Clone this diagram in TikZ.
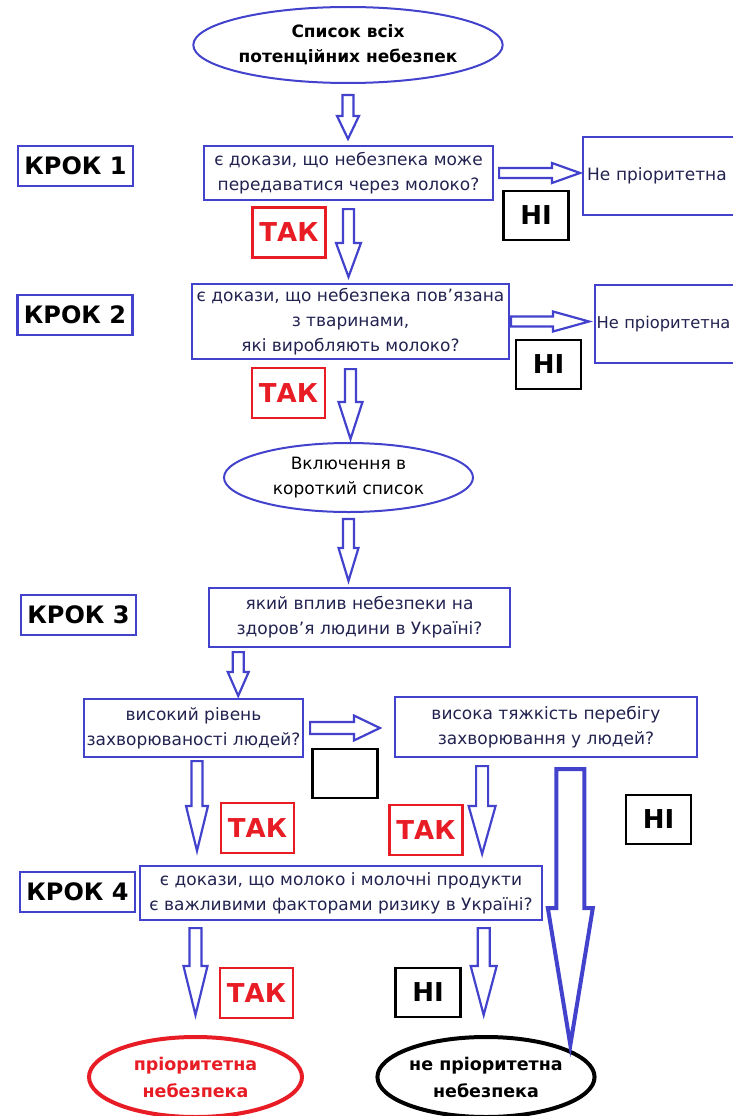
\documentclass[tikz,border=0pt]{standalone}
\usepackage{fontspec}
\setmainfont{DejaVu Sans}
\usetikzlibrary{positioning, calc, shapes.geometric}
\definecolor{flowblue}{RGB}{66,66,204}
\definecolor{flowred}{RGB}{232,28,36}
\definecolor{qtext}{RGB}{34,34,80}
\newcommand\txtq{\fontsize{17}{25}\selectfont}
\newcommand\txtstep{\fontsize{24}{28}\selectfont\bfseries}
\newcommand\txttag{\fontsize{26}{30}\selectfont\bfseries}
\newcommand\txtend{\fontsize{17.5}{27}\selectfont\bfseries}
\tikzset{
  flow box/.style={draw=flowblue, line width=2.2, rectangle, inner sep=0, align=center, text=qtext, font=\txtq},
  flow step/.style={draw=flowblue, line width=2.2, minimum width=115, minimum height=40, inner sep=0, font=\txtstep},
  flow yes/.style={draw=flowred, line width=2.2, text=flowred, minimum width=73, minimum height=50, inner sep=0, font=\txttag},
  flow no/.style={draw=black, line width=2.2, minimum width=65, minimum height=49, inner sep=0, font=\txttag},
  flow oval/.style={ellipse, draw=flowblue, line width=2, inner sep=0, align=center, text=black},
  flow end/.style={ellipse, line width=4, inner sep=0, align=center, font=\txtend, minimum width=210, minimum height=80},
  flow arrow/.style={draw=flowblue, line join=miter},
}
\pgfkeys{/barrow/.cd, shaft/.store in=\barshaft, head/.store in=\barhead, tip/.store in=\bartip,
  sgap/.store in=\barsgap, egap/.store in=\baregap, width/.store in=\barlw,
  shaft=5.5, head=11, tip=24, sgap=0, egap=0, width=2.2}
\newcommand\blockarrow[3][]{%
  \begingroup
  \pgfqkeys{/barrow}{#1}%
  \draw[flow arrow, line width=\barlw] let \p1=($(#3)-(#2)$), \n1={veclen(\x1,\y1)}, \n2={atan2(\y1,\x1)} in
    {[shift={(#2)}, rotate=\n2]
    (\barsgap,\barshaft) -- ({\n1-(\baregap)-\bartip},\barshaft) -- ({\n1-(\baregap)-\bartip},\barhead)
    -- ({\n1-(\baregap)},0) -- ({\n1-(\baregap)-\bartip},-\barhead) -- ({\n1-(\baregap)-\bartip},-\barshaft)
    -- (\barsgap,-\barshaft) -- cycle};
  \endgroup}

\begin{document}
\begin{tikzpicture}[x=1pt, y=1pt]
\useasboundingbox (0,0) rectangle (733,-1116);

\node[flow oval, minimum width=220, minimum height=76, font=\txtq\bfseries] (top) at (348,-45) {Список всіх\\потенційних небезпек};

\node[flow step] (krok1) at (75.5,-166) {КРОК 1};
\node[flow box, minimum width=289, minimum height=54] (q1) at (348.5,-173) {є докази, що небезпека може\\передаватися через молоко?};
\node[flow box, anchor=west, text width=150, inner xsep=4, minimum height=78, align=left] (np1) at (582,-176) {Не пріоритетна};
\node[flow no] (no1) at (536,-215.5) {НІ};
\node[flow yes] (yes1) at (289,-232.5) {ТАК};

\node[flow step] (krok2) at (75,-315) {КРОК 2};
\node[flow box, minimum width=317, minimum height=75] (q2) at (350.5,-321.5) {є докази, що небезпека пов'язана\\з тваринами,\\які виробляють молоко?};
\node[flow box, anchor=west, text width=150, inner xsep=1.5, minimum height=78, align=left, font=\fontsize{16.3}{25}\selectfont] (np2) at (594,-324) {Не пріоритетна};
\node[flow no] (no2) at (548.5,-364.5) {НІ};
\node[flow yes] (yes2) at (288.5,-393) {ТАК};
\node[flow oval, minimum width=249, minimum height=69, font=\txtq] (short) at (348.5,-477.5) {Включення в\\короткий список};

\node[flow step] (krok3) at (78.5,-615) {КРОК 3};
\node[flow box, minimum width=301, minimum height=59] (q3) at (359.5,-617.5) {який вплив небезпеки на\\здоров'я людини в Україні?};
\node[flow box, minimum width=219, minimum height=58] (rate) at (193.5,-728) {високий рівень\\захворюваності людей?};
\node[flow box, minimum width=302, minimum height=60] (sever) at (546,-727) {висока тяжкість перебігу\\захворювання у людей?};
\node[flow no] (blank) at (345,-773.5) {};
\node[flow no] (no3) at (658.5,-819.5) {НІ};
\node[flow yes] (yes3) at (257.5,-828) {ТАК};
\node[flow yes] (yes4) at (426,-830) {ТАК};

\node[flow step] (krok4) at (77.5,-892) {КРОК 4};
\node[flow box, minimum width=402, minimum height=54] (q4) at (341,-893) {є докази, що  молоко і молочні продукти\\є важливими факторами ризику в Україні?};
\node[flow yes] (yes5) at (256.5,-993) {ТАК};
\node[flow no] (no4) at (428,-992.5) {НІ};
\node[flow end, draw=flowred, text=flowred, minimum width=213] (prio) at (195.5,-1077) {пріоритетна\\небезпека};
\node[flow end, draw=black, text=black, minimum width=208] (notprio) at (486,-1077) {не пріоритетна\\небезпека};

\coordinate (q3out) at ($(q3.south west)!0.1!(q3.south east)$);
\coordinate (rateout) at ($(rate.south)+(3.5,0)$);
\coordinate (severout) at ($(sever.south west)!0.29!(sever.south east)$);
\coordinate (skip) at ($(sever.south west)!0.58!(sever.south east)$);
\coordinate (q4left) at ($(q4.south west)!0.14!(q4.south east)$);
\coordinate (q4right) at ($(q4.south west)!0.853!(q4.south east)$);

\blockarrow[sgap=11, egap=6, tip=23]{top.south}{top.south |- q1.north}
\blockarrow[sgap=8, egap=6, head=12.5, tip=34]{q1.south}{q1.south |- q2.north}
\blockarrow[sgap=9, egap=3, head=12, tip=37]{q2.south}{q2.south |- short.north}
\blockarrow[sgap=6, egap=6, head=10, tip=33]{short.south}{short.south |- q3.north}
\blockarrow[sgap=4, egap=2, head=10.5, tip=24]{q3out}{q3out |- rate.north}
\blockarrow[sgap=5, egap=2, shaft=5, head=10, tip=28]{q1.east}{q1.east -| np1.west}
\blockarrow[sgap=1, egap=5, shaft=5, head=10, tip=36]{q2.east}{q2.east -| np2.west}
\blockarrow[sgap=6, egap=14, shaft=6, head=12.5, tip=26]{rate.east}{rate.east -| sever.west}
\blockarrow[sgap=3, egap=14, head=11, tip=45]{rateout}{rateout |- q4.north}
\blockarrow[sgap=8, egap=11, shaft=6, head=13.5, tip=48]{severout}{severout |- q4.north}
\blockarrow[sgap=11, egap=-10, shaft=14, head=22.5, tip=137, width=4]{skip}{skip |- notprio.north}
\blockarrow[sgap=7, egap=20, shaft=6, head=12, tip=49]{q4left}{q4left |- prio.north}
\blockarrow[sgap=7, egap=20, shaft=6, head=13, tip=49]{q4right}{q4right |- notprio.north}

\end{tikzpicture}
\end{document}
